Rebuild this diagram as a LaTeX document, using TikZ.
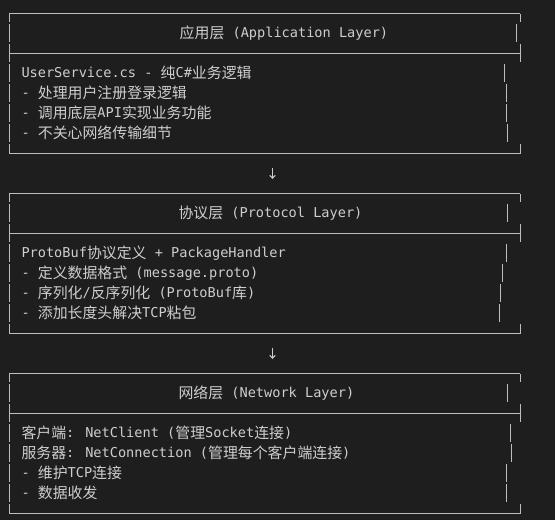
\documentclass[tikz,border=0pt]{standalone}
\usepackage{fontspec}
\newfontfamily\monofnt{DejaVu Sans Mono}
\newfontfamily\cjkfnt{Noto Sans CJK SC}
\usetikzlibrary{arrows.meta}
\newcommand\C[1]{\raisebox{-1pt}{\cjkfnt\fontsize{14.9}{14.9}\selectfont #1}}
\definecolor{bgc}{HTML}{1E1E1E}
\definecolor{txtc}{HTML}{CECECE}
\definecolor{lnc}{HTML}{BDBDBD}
\tikzset{
  boxline/.style={draw=lnc, line width=1pt},
  txtline/.style={anchor=base west, inner sep=0pt, text=txtc, font=\monofnt\fontsize{13.6}{13.6}\selectfont},
  downarrow/.style={draw=txtc, line width=1pt, -{Straight Barb[length=3pt,width=5.5pt]}},
}
% #1 top row centre, #2 right edge, #3 title bar x, #4-#7 content bar x
\newcommand\layerbox[7]{%
  \draw[boxline] (9,#1) -- (#2,#1);
  \draw[boxline] (9,#1) -- (9,#1+8.2) (#2,#1) -- (#2,#1+8.2);
  \draw[boxline] (9,#1+10.5) -- (9,#1+28.2) (#3,#1+10.5) -- (#3,#1+28.2);
  \draw[boxline] (9,#1+40) -- (#2,#1+40);
  \draw[boxline] (9,#1+30.5) -- (9,#1+48.2) (#2,#1+30.5) -- (#2,#1+48.2);
  \draw[boxline] (9,#1+50.5) -- (9,#1+68.2) (#4,#1+50.5) -- (#4,#1+68.2);
  \draw[boxline] (9,#1+70.5) -- (9,#1+88.2) (#5,#1+70.5) -- (#5,#1+88.2);
  \draw[boxline] (9,#1+90.5) -- (9,#1+108.2) (#6,#1+90.5) -- (#6,#1+108.2);
  \draw[boxline] (9,#1+110.5) -- (9,#1+128.2) (#7,#1+110.5) -- (#7,#1+128.2);
  \draw[boxline] (9,#1+140) -- (#2,#1+140);
  \draw[boxline] (9,#1+130.5) -- (9,#1+140) (#2,#1+130.5) -- (#2,#1+140);
}
\begin{document}
\begin{tikzpicture}[x=1pt,y=-1pt]
\fill[bgc] (0,0) rectangle (555,520);
\useasboundingbox (0,0) rectangle (555,520);

% ---------- Application layer ----------
\layerbox{13.5}{520}{516}{504.3}{506}{506}{507.3}
\node[txtline] (t1) at (179.5,37.5) {\C{应用层} (Application Layer)};
\node[txtline] (a1) at (21.3,77.5) {UserService.cs - \C{纯}C\#\C{业务逻辑}};
\node[txtline] (a2) at (21.3,97.5) {- \C{处理用户注册登录逻辑}};
\node[txtline] (a3) at (21.3,117.5) {- \C{调用底层}API\C{实现业务功能}};
\node[txtline] (a4) at (21.3,137.5) {- \C{不关心网络传输细节}};

\coordinate (ar1s) at (272.5,167.5);
\coordinate (ar1e) at (272.5,179);
\draw[downarrow] (ar1s) -- (ar1e);

% ---------- Protocol layer ----------
\layerbox{193.5}{520}{507.7}{506}{502.7}{500}{499}
\node[txtline] (t2) at (178.3,217.5) {\C{协议层} (Protocol Layer)};
\node[txtline] (p1) at (21.3,257.5) {ProtoBuf\C{协议定义} + PackageHandler};
\node[txtline] (p2) at (21.3,277.5) {- \C{定义数据格式} (message.proto)};
\node[txtline] (p3) at (21.3,297.5) {- \C{序列化}/\C{反序列化} (ProtoBuf\C{库})};
\node[txtline] (p4) at (21.3,317.5) {- \C{添加长度头解决}TCP\C{粘包}};

\coordinate (ar2s) at (272.5,347.5);
\coordinate (ar2e) at (272.5,359);
\draw[downarrow] (ar2s) -- (ar2e);

% ---------- Network layer ----------
\layerbox{373.5}{520}{507.7}{510}{511}{506.3}{506.3}
\node[txtline] (t3) at (178.3,397.5) {\C{网络层} (Network Layer)};
\node[txtline] (n1) at (21.3,437.5) {\C{客户端}: NetClient (\C{管理}Socket\C{连接})};
\node[txtline] (n2) at (21.3,457.5) {\C{服务器}: NetConnection (\C{管理每个客户端连接})};
\node[txtline] (n3) at (21.3,477.5) {- \C{维护}TCP\C{连接}};
\node[txtline] (n4) at (21.3,497.5) {- \C{数据收发}};
\end{tikzpicture}
\end{document}
